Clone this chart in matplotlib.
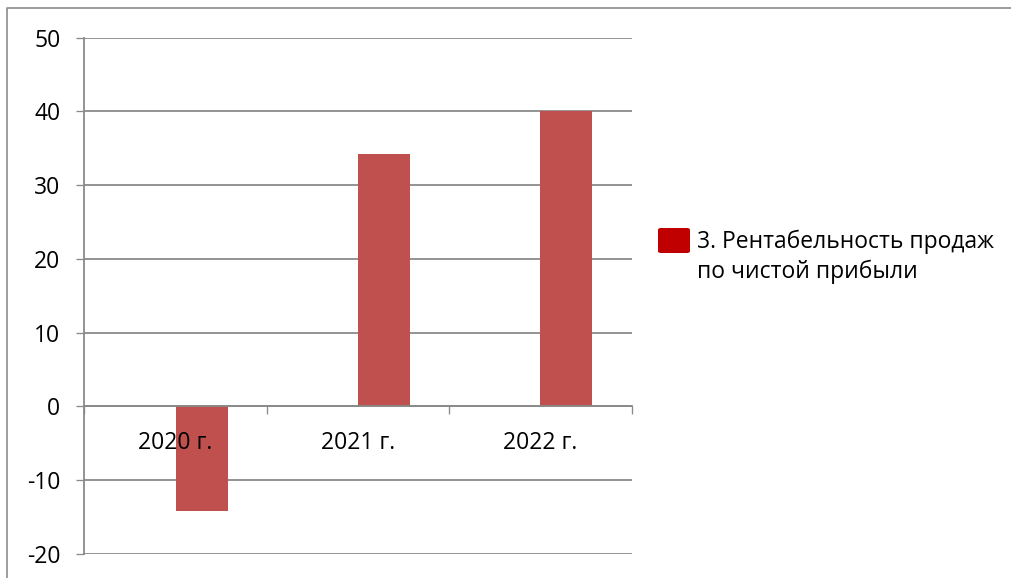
import matplotlib
matplotlib.use("Agg")
import matplotlib.pyplot as plt
from matplotlib.patches import FancyBboxPatch
from matplotlib.lines import Line2D
import matplotlib.transforms as mtransforms

plt.rcParams['font.family'] = ['Open Sans', 'DejaVu Sans']

# Data
categories = ["2020 г.", "2021 г.", "2022 г."]
values = [-14.2, 34.2, 40.0]
series_name = "3. Рентабельность продаж\nпо чистой прибыли"
y_ticks = [-20, -10, 0, 10, 20, 30, 40, 50]

W, H, DPI = 1012, 578, 100
BAR_COLOR = "#C0504D"
LEGEND_COLOR = "#C00000"
GRID_COLOR = "#8a8a8a"
FS = 16.5

fig = plt.figure(figsize=(W / DPI, H / DPI), dpi=DPI)

# Axes placement in pixels
left_px, right_px, top_px, bottom_px = 84.3, 631.7, 37.7, 553.7
ax = fig.add_axes([left_px / W, 1 - bottom_px / H,
                   (right_px - left_px) / W, (bottom_px - top_px) / H])

x = list(range(len(categories)))
ax.bar(x, values, width=0.285, align='edge', color=BAR_COLOR, zorder=2)

ax.set_xlim(-0.5, len(categories) - 0.5)
ax.set_ylim(min(y_ticks), max(y_ticks))

# Horizontal gridlines behind bars
for t in y_ticks:
    ax.axhline(t, color=GRID_COLOR, lw=1.3, zorder=0.5)

for side in ['top', 'right']:
    ax.spines[side].set_visible(False)
ax.spines['bottom'].set_position(('data', 0))
ax.spines['bottom'].set_color(GRID_COLOR)
ax.spines['bottom'].set_linewidth(1.3)
ax.spines['left'].set_color(GRID_COLOR)
ax.spines['left'].set_linewidth(1.3)

ax.set_yticks(y_ticks)
ax.set_yticklabels([str(t) for t in y_ticks])
ax.tick_params(axis='y', direction='out', length=5.8, width=0.95,
               color=GRID_COLOR, pad=11.5, labelsize=FS)

# Category boundary ticks on the zero axis
ax.set_xticks([i - 0.5 for i in range(len(categories) + 1)])
ax.set_xticklabels([])
ax.tick_params(axis='x', direction='out', length=5.5, width=0.95,
               color=GRID_COLOR)

# Category labels just below the zero line, in front of bars
offset = mtransforms.ScaledTranslation(0, -37 / DPI, fig.dpi_scale_trans)
for i, lab in enumerate(categories):
    ax.text(i, 0, lab, ha='center', va='center', fontsize=FS,
            transform=ax.transData + offset, zorder=5)

# Legend
fig.patches.append(FancyBboxPatch(
    (658 / W, 1 - 253 / H), 32 / W, 25 / H,
    boxstyle="round,pad=0,rounding_size=0.003",
    transform=fig.transFigure, facecolor=LEGEND_COLOR, edgecolor='none'))
fig.text(697 / W, 1 - 256.7 / H, series_name, fontsize=FS,
         ha='left', va='center', linespacing=1.32)

# Chart frame
fig.add_artist(Line2D([7 / W, 7 / W, 1.0], [0.0, 1 - 8 / H, 1 - 8 / H],
                      transform=fig.transFigure, color="#8c8c8c", lw=1.2))

fig.savefig("out.png", dpi=DPI)
